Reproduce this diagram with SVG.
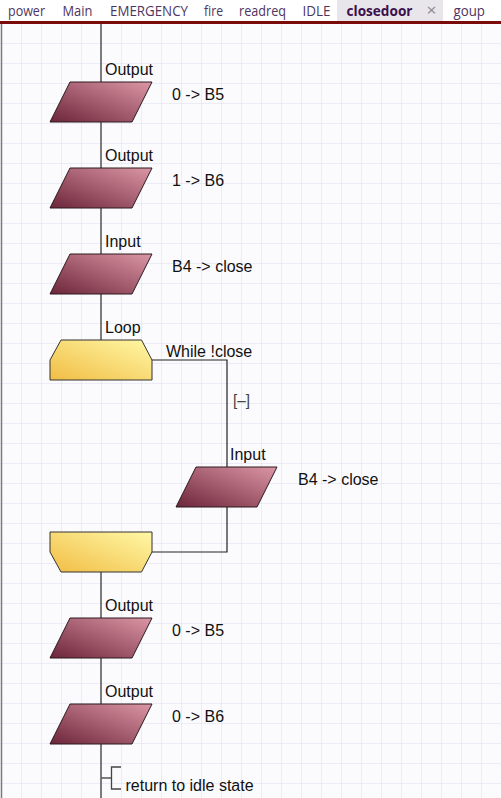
<svg xmlns="http://www.w3.org/2000/svg" width="501" height="798" viewBox="0 0 501 798">
  <defs>
    <pattern id="grid" x="2" y="4" width="20" height="20" patternUnits="userSpaceOnUse">
      <path d="M20,0 V20 M0,20 H20" fill="none" stroke="#dcdcee" stroke-width="1"/>
    </pattern>
    <linearGradient id="gPar" x1="0" y1="1" x2="1" y2="0">
      <stop offset="0" stop-color="#6c2539"/>
      <stop offset="1" stop-color="#dc97a6"/>
    </linearGradient>
    <linearGradient id="gLoop" x1="0" y1="1" x2="1" y2="0">
      <stop offset="0" stop-color="#f1bd45"/>
      <stop offset="1" stop-color="#fff8a6"/>
    </linearGradient>
    <style>
      .tab { font-family: "Open Sans", "Noto Sans", sans-serif; font-size: 14px; fill: #4d3560; }
      .tabsel { font-family: "Open Sans", "Noto Sans", sans-serif; font-size: 14px; font-weight: bold; fill: #3c0f4d; }
      .lbl { font-family: "Liberation Sans", Arial, sans-serif; font-size: 16px; fill: #111; }
      .par { fill: url(#gPar); stroke: #2a1a1e; stroke-width: 1; }
      .loop { fill: url(#gLoop); stroke: #333; stroke-width: 1; }
      .main { fill: none; stroke: #5e5e5e; stroke-width: 1.6; }
      .thin { fill: none; stroke: #222; stroke-width: 1.2; }
    </style>
  </defs>

  <!-- canvas -->
  <rect x="0" y="24" width="501" height="774" fill="#fbfbfd"/>
  <rect x="0" y="24" width="501" height="774" fill="url(#grid)"/>
  <line x1="1.5" y1="24" x2="1.5" y2="798" stroke="#7a7a7a" stroke-width="1.5"/>

  <!-- tab bar -->
  <g id="tabs">
    <rect x="0" y="0" width="501" height="21" fill="#ffffff"/>
    <rect x="337" y="0" width="106" height="21" fill="#e8e5eb"/>
    <text class="tab" x="8" y="16" textLength="37" lengthAdjust="spacingAndGlyphs">power</text>
    <text class="tab" x="62.5" y="16" textLength="30" lengthAdjust="spacingAndGlyphs">Main</text>
    <text class="tab" x="110" y="16" textLength="78" lengthAdjust="spacingAndGlyphs">EMERGENCY</text>
    <text class="tab" x="204" y="16" textLength="19" lengthAdjust="spacingAndGlyphs">fire</text>
    <text class="tab" x="239" y="16" textLength="47" lengthAdjust="spacingAndGlyphs">readreq</text>
    <text class="tab" x="302.5" y="16" textLength="28" lengthAdjust="spacingAndGlyphs">IDLE</text>
    <text class="tabsel" x="346.5" y="16" textLength="66" lengthAdjust="spacingAndGlyphs">closedoor</text>
    <text x="426.5" y="16" font-family="'Open Sans', 'Noto Sans', sans-serif" font-size="16" fill="#8a8a8a" textLength="10" lengthAdjust="spacingAndGlyphs">×</text>
    <text class="tab" x="453.5" y="16" textLength="31.5" lengthAdjust="spacingAndGlyphs">goup</text>
    <rect x="0" y="21" width="501" height="3" fill="#7b0b0b"/>
  </g>

  <!-- connectors -->
  <g id="connectors">
    <path class="main" d="M101,24 V82 M101,122 V168 M101,208 V254 M101,294 V340 M101,572 V618 M101,658 V704 M101,744 V798"/>
    <path class="thin" d="M152,360 H227 V467 M227,507 V552 H152"/>
    <path class="main" d="M101,778 H111"/>
    <path d="M121,767 H111.5 V789 H121" fill="none" stroke="#444" stroke-width="1.3"/>
    <text x="233" y="406" font-family="'Liberation Sans', Arial, sans-serif" font-size="17" fill="#444" textLength="17" lengthAdjust="spacingAndGlyphs">[–]</text>
  </g>

  <!-- nodes -->
  <g id="out1">
    <polygon class="par" points="70,82 152,82 132,122 50,122"/>
    <text class="lbl" x="105" y="74.5">Output</text>
    <text class="lbl" x="172" y="99.5">0 -&gt; B5</text>
  </g>
  <g id="out2">
    <polygon class="par" points="70,168 152,168 132,208 50,208"/>
    <text class="lbl" x="105" y="160.5">Output</text>
    <text class="lbl" x="172" y="185.5">1 -&gt; B6</text>
  </g>
  <g id="in1">
    <polygon class="par" points="70,254 152,254 132,294 50,294"/>
    <text class="lbl" x="105" y="246.5">Input</text>
    <text class="lbl" x="172" y="271.5">B4 -&gt; close</text>
  </g>
  <g id="loopStart">
    <polygon class="loop" points="61,340 141.5,340 152,360 152,380 50,380 50,360"/>
    <text class="lbl" x="105" y="333">Loop</text>
    <text class="lbl" x="166" y="357">While !close</text>
  </g>
  <g id="in2">
    <polygon class="par" points="196,467 277,467 257,507 176,507"/>
    <text class="lbl" x="230" y="459.5">Input</text>
    <text class="lbl" x="298" y="485">B4 -&gt; close</text>
  </g>
  <g id="loopEnd">
    <polygon class="loop" points="50,532 152,532 152,552 141.5,572 61,572 50,552"/>
  </g>
  <g id="out3">
    <polygon class="par" points="70,618 152,618 132,658 50,658"/>
    <text class="lbl" x="105" y="610.5">Output</text>
    <text class="lbl" x="172" y="635.5">0 -&gt; B5</text>
  </g>
  <g id="out4">
    <polygon class="par" points="70,704 152,704 132,744 50,744"/>
    <text class="lbl" x="105" y="696.5">Output</text>
    <text class="lbl" x="172" y="721.5">0 -&gt; B6</text>
  </g>
  <g id="comment">
    <text class="lbl" x="125.5" y="791">return to idle state</text>
  </g>
</svg>
